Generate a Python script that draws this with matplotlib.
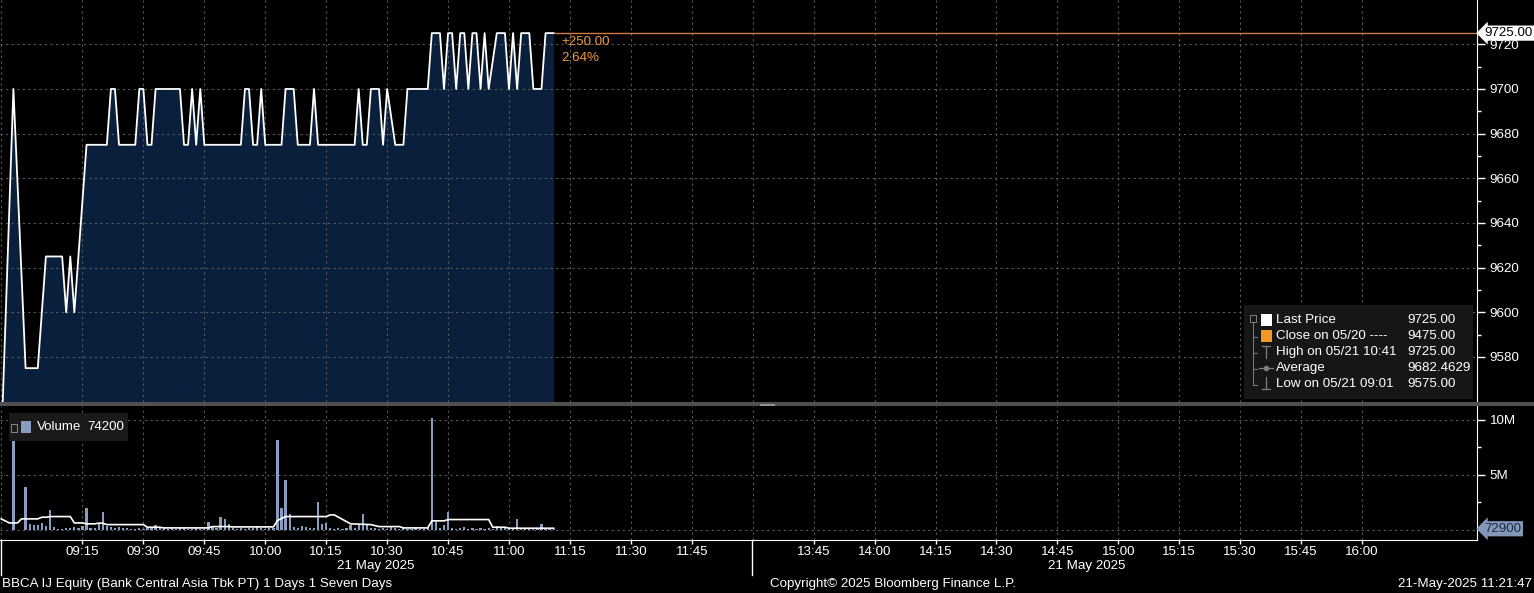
import matplotlib
matplotlib.use("Agg")
from matplotlib import pyplot as plt
from matplotlib.lines import Line2D
from matplotlib.patches import Rectangle
import numpy as np

plt.rcParams['font.family'] = ['Liberation Sans', 'DejaVu Sans']

# last price (1 minute bars), 21 May 2025
price_times = ["08:55", "08:58", "09:01", "09:04", "09:06", "09:10", "09:11", "09:12", "09:13",
               "09:16", "09:21", "09:22", "09:23", "09:24", "09:28", "09:29", "09:30", "09:31",
               "09:32", "09:33", "09:39", "09:40", "09:41", "09:42", "09:43", "09:44", "09:45",
               "09:54", "09:55", "09:56", "09:57", "09:58", "09:59", "10:00", "10:04", "10:05",
               "10:07", "10:08", "10:11", "10:12", "10:13", "10:22", "10:23", "10:24", "10:25",
               "10:26", "10:28", "10:29", "10:30", "10:32", "10:34", "10:35", "10:40", "10:41",
               "10:43", "10:44", "10:45", "10:46", "10:47", "10:48", "10:49", "10:50", "10:51",
               "10:52", "10:53", "10:54", "10:55", "10:57", "10:59", "11:00", "11:01", "11:02",
               "11:03", "11:05", "11:06", "11:08", "11:09", "11:11"]
price_vals = [9540, 9700, 9575, 9575, 9625, 9625, 9600, 9625, 9600,
              9675, 9675, 9700, 9700, 9675, 9675, 9700, 9700, 9675,
              9675, 9700, 9700, 9675, 9675, 9700, 9675, 9700, 9675,
              9675, 9700, 9700, 9675, 9675, 9700, 9675, 9675, 9700,
              9700, 9675, 9675, 9700, 9675, 9675, 9700, 9675, 9675,
              9700, 9700, 9675, 9700, 9675, 9675, 9700, 9700, 9725,
              9725, 9700, 9725, 9725, 9700, 9725, 9725, 9700, 9725,
              9725, 9700, 9725, 9700, 9725, 9725, 9700, 9725, 9700,
              9725, 9725, 9700, 9700, 9725, 9725]

# volume in millions, opening auction then every minute 09:00 .. 11:11
auction_time = "08:58"
auction_vol = 8.6
vol_start = "09:00"
vol_vals = [0.0, 3.9, 0.5, 0.45, 0.4, 0.6, 0.3, 1.8, 0.2, 0.05,
            0.05, 0.1, 0.15, 0.2, 0.1, 0.3, 2.0, 0.1, 0.1, 0.6,
            1.6, 0.3, 0.2, 0.15, 0.2, 0.1, 0.1, 0.05, 0.05, 0.1,
            0.05, 0.2, 0.1, 0.45, 0.1, 0.1, 0.05, 0.1, 0.05, 0.1,
            0.2, 0.05, 0.05, 0.1, 0.05, 0.05, 0.7, 0.3, 0.1, 1.1,
            1.0, 0.5, 0.1, 0.05, 0.1, 0.05, 0.1, 0.1, 0.3, 0.1,
            0.05, 0.1, 0.1, 8.1, 2.0, 4.5, 1.4, 0.2, 0.1, 0.3,
            0.2, 0.1, 0.15, 2.5, 0.5, 0.6, 0.1, 0.05, 0.1, 0.05,
            0.1, 0.4, 0.1, 0.4, 1.45, 0.5, 0.1, 0.1, 0.05, 0.1,
            0.05, 0.3, 0.1, 0.05, 0.1, 0.05, 0.05, 0.1, 0.05, 0.05,
            0.1, 10.1, 0.7, 0.1, 0.45, 1.6, 0.1, 0.05, 0.1, 0.2,
            0.05, 0.1, 0.05, 0.1, 0.05, 0.1, 0.05, 0.35, 0.1, 0.25,
            0.1, 0.05, 1.0, 0.1, 0.05, 0.1, 0.1, 0.05, 0.5, 0.1,
            0.1, 0.0729]

# white average line in the volume panel (millions)
vma_times = ["08:55", "08:57", "08:59", "09:00", "09:04", "09:05", "09:06", "09:07", "09:12",
             "09:13", "09:15", "09:16", "09:18", "09:19", "09:20", "09:21", "09:30", "09:31",
             "09:34", "09:35", "09:46", "09:47", "09:51", "09:52", "10:02", "10:03", "10:05",
             "10:15", "10:16", "10:17", "10:21", "10:26", "10:28", "10:33", "10:34", "10:40",
             "10:41", "10:44", "10:45", "10:55", "10:56", "10:59", "11:00", "11:11"]
vma_vals = [0.97, 0.6, 0.6, 0.97, 0.97, 1.12, 1.12, 1.18, 1.18,
            0.6, 0.6, 0.52, 0.52, 0.58, 0.58, 0.45, 0.45, 0.21,
            0.21, 0.15, 0.15, 0.27, 0.27, 0.24, 0.24, 0.82, 1.18,
            1.18, 1.33, 1.33, 0.52, 0.45, 0.27, 0.27, 0.15, 0.15,
            0.79, 0.79, 0.91, 0.91, 0.21, 0.21, 0.12, 0.12]

tick_labels = ["09:15", "09:30", "09:45", "10:00", "10:15", "10:30", "10:45", "11:00",
               "11:15", "11:30", "11:45", "13:45", "14:00", "14:15", "14:30", "14:45",
               "15:00", "15:15", "15:30", "15:45", "16:00"]

last_price = 9725.00
prev_close = 9475.00
legend_rows = [("Last Price", "9725.00"), ("Close on 05/20 ----", "9475.00"),
               ("High on 05/21 10:41", "9725.00"), ("Average", "9682.4629"),
               ("Low on 05/21 09:01", "9575.00")]


def to_x(t):
    # minutes from 08:55, lunch break (12:00-13:30) removed
    h, m = t.split(":")
    mins = int(h) * 60 + int(m)
    if mins >= 13 * 60 + 30:
        return 185 + mins - (13 * 60 + 30)
    return mins - (8 * 60 + 55)


W, H = 1534, 593
fig = plt.figure(figsize=(W / 100, H / 100), dpi=100, facecolor='black')


def fx(px):
    return px / W


def fy(py):
    return 1 - py / H


bg = 'black'
grid_c = '#5a5a5a'
fs = 9.6

ax = fig.add_axes([0, fy(402), fx(1477), 402 / H], facecolor=bg)
axv = fig.add_axes([0, fy(540), fx(1477), (540 - 406) / H], facecolor=bg)

xlim = (-0.3, 363.3)
px_ = np.array([to_x(t) for t in price_times])
py_ = np.array(price_vals)
ylo = 9559.85
ax.fill_between(px_, py_, ylo - 50, color='#0a1f3b', lw=0, zorder=1)
ax.plot(px_, py_, color='white', lw=1.3, zorder=3)
ax.plot([px_[-1], xlim[1]], [last_price, last_price], color='#d07a3e', lw=1.0, zorder=3)
ax.set_xlim(*xlim)
ax.set_ylim(ylo, 9739.83)

xt = [to_x(t) for t in tick_labels]
for a in (ax, axv):
    for v in xt + [0, 185]:
        a.axvline(v, color=grid_c, lw=0.8, ls=(0, (2, 3)), zorder=2)
    for s in ('top', 'left', 'bottom'):
        a.spines[s].set_visible(False)
    a.spines['right'].set_color('white')
    a.yaxis.tick_right()
    a.tick_params(axis='y', colors='white', direction='out', length=6, width=1,
                  labelsize=fs, pad=3)
    a.tick_params(axis='y', which='minor', colors='white', length=3, width=1)

yt = np.arange(9580, 9721, 20)
ax.set_yticks(yt)
ax.set_yticks(yt[:-1] + 10, minor=True)
ax.set_yticklabels([str(v) for v in yt])
for v in yt:
    ax.axhline(v, color=grid_c, lw=0.8, ls=(0, (2, 3)), zorder=2)
ax.set_xticks([])

ax.text(to_x("11:11") + 2, 9721, "+250.00", color='#f09a3a', fontsize=fs, va='center')
ax.text(to_x("11:11") + 2, 9713.8, "2.64%", color='#f09a3a', fontsize=fs, va='center')
ax.text(1.005, last_price, "%.2f" % last_price, transform=ax.get_yaxis_transform(),
        color='black', fontsize=fs, va='center', ha='left', zorder=10, clip_on=False,
        bbox=dict(boxstyle='larrow,pad=0.12', fc='white', ec='none'))

# volume panel
vx = np.array([to_x(vol_start) + i for i in range(len(vol_vals))])
axv.bar([to_x(auction_time)], [auction_vol], width=0.55, color='#8a9dc0', zorder=3)
axv.bar(vx, vol_vals, width=0.55, color='#8a9dc0', zorder=3)
axv.plot([to_x(t) for t in vma_times], vma_vals, color='white', lw=1.2, zorder=4)
axv.set_xlim(*xlim)
axv.set_ylim(-0.95, 11.23)
axv.set_yticks([5, 10])
axv.set_yticklabels(["5M", "10M"])
axv.set_yticks([2.5, 7.5], minor=True)
for v in (0, 5, 10):
    axv.axhline(v, color=grid_c, lw=0.8, ls=(0, (2, 3)), zorder=2)
axv.spines['bottom'].set_visible(True)
axv.spines['bottom'].set_color('white')
axv.set_xticks(xt)
axv.set_xticklabels(tick_labels)
axv.tick_params(axis='x', colors='white', length=3, width=1, labelsize=fs, pad=1)
axv.text(1.005, vol_vals[-1], "%d" % round(vol_vals[-1] * 1e6), transform=axv.get_yaxis_transform(),
         color='#1c2a44', fontsize=fs, va='center', ha='left', zorder=10, clip_on=False,
         bbox=dict(boxstyle='larrow,pad=0.12', fc='#8497b8', ec='none'))

# volume legend box
fig.add_artist(Rectangle((fx(9), fy(441)), fx(128) - fx(9), fy(413) - fy(441), fc='#1a1a1a', ec='none'))
fig.add_artist(Rectangle((fx(11), fy(432)), fx(6), fy(424) - fy(432), fc='none', ec='#888888', lw=0.7))
fig.add_artist(Rectangle((fx(21), fy(433)), fx(10), fy(421) - fy(433), fc='#8a9dc0', ec='none'))
fig.text(fx(37), fy(427), "Volume", color='white', fontsize=fs, va='center')
fig.text(fx(87), fy(427), "74200", color='white', fontsize=fs, va='center')

# price legend box
fig.add_artist(Rectangle((fx(1244), fy(399)), fx(1473) - fx(1244), fy(305) - fy(399), fc='#161616', ec='none'))
rows_y = [320, 336, 352, 368, 384]
tree = '#808080'
fig.add_artist(Rectangle((fx(1250), fy(322)), fx(6), fy(315) - fy(322), fc='none', ec=tree, lw=0.7))
fig.add_artist(Line2D([fx(1253)] * 2, [fy(323), fy(385)], color=tree, lw=0.7))
for yy in rows_y[1:]:
    fig.add_artist(Line2D([fx(1253), fx(1257)], [fy(yy + 1)] * 2, color=tree, lw=0.7))
fig.add_artist(Rectangle((fx(1261), fy(326)), fx(11), fy(314) - fy(326), fc='white', ec='none'))
fig.add_artist(Rectangle((fx(1261), fy(342)), fx(11), fy(330) - fy(342), fc='#f39a1e', ec='none'))
fig.add_artist(Line2D([fx(1262), fx(1270)], [fy(346)] * 2, color=tree, lw=0.9))
fig.add_artist(Line2D([fx(1266)] * 2, [fy(346), fy(358)], color=tree, lw=0.9))
fig.add_artist(Line2D([fx(1259), fx(1273)], [fy(368)] * 2, color=tree, lw=0.9))
fig.add_artist(Line2D([fx(1266)], [fy(368)], color=tree, marker='o', ms=3))
fig.add_artist(Line2D([fx(1266)] * 2, [fy(377), fy(389)], color=tree, lw=0.9))
fig.add_artist(Line2D([fx(1262), fx(1270)], [fy(389)] * 2, color=tree, lw=0.9))
for (lab, val), yy in zip(legend_rows, rows_y):
    fig.text(fx(1276), fy(yy), lab, color='white', fontsize=fs, va='center')
    fig.text(fx(1407), fy(yy), val, color='white', fontsize=fs, va='center')

# panel separator
fig.add_artist(Rectangle((0, fy(406)), 1, fy(402) - fy(406), fc='#505050', ec='none'))
fig.add_artist(Line2D([fx(760), fx(774)], [fy(403.5)] * 2, color='#a0a0a0', lw=0.6))
fig.add_artist(Line2D([fx(760), fx(774)], [fy(405)] * 2, color='#a0a0a0', lw=0.6))

# session separators below the axis
for xx in (1, 752):
    fig.add_artist(Line2D([fx(xx)] * 2, [fy(540), fy(575)], color='white', lw=1))

fig.text(fx(376), fy(566), "21 May 2025", color='white', fontsize=fs, ha='center', va='center')
fig.text(fx(1087), fy(566), "21 May 2025", color='white', fontsize=fs, ha='center', va='center')
fig.text(fx(2), fy(584), "BBCA IJ Equity (Bank Central Asia Tbk PT) 1 Days 1 Seven Days",
         color='white', fontsize=fs, va='center')
fig.text(fx(770), fy(584), "Copyright\u00a9 2025 Bloomberg Finance L.P.", color='white',
         fontsize=fs, va='center')
fig.text(fx(1532), fy(584), "21-May-2025 11:21:47", color='white', fontsize=fs,
         ha='right', va='center')

fig.savefig("out.png", dpi=100, facecolor='black')
